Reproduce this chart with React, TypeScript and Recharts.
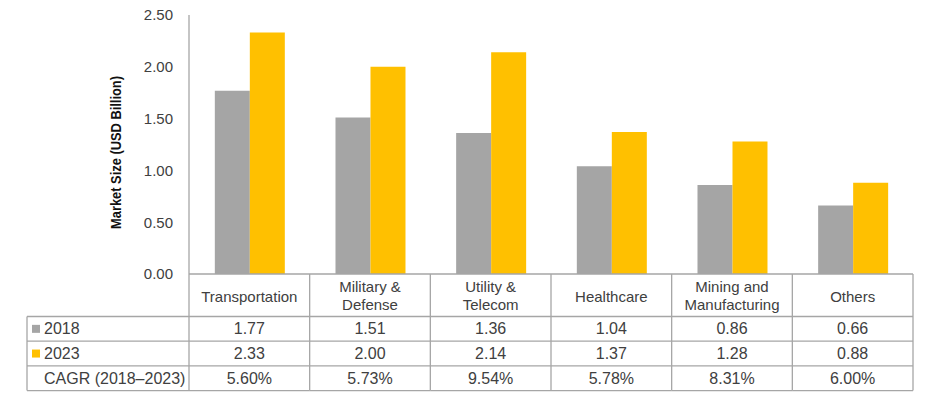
import React from "react"
import { BarChart, Bar, XAxis, YAxis } from "recharts"

const categories = [
  "Transportation",
  "Military &\nDefense",
  "Utility &\nTelecom",
  "Healthcare",
  "Mining and\nManufacturing",
  "Others",
]
const values2018 = [1.77, 1.51, 1.36, 1.04, 0.86, 0.66]
const values2023 = [2.33, 2.0, 2.14, 1.37, 1.28, 0.88]
const cagr = ["5.60%", "5.73%", "9.54%", "5.78%", "8.31%", "6.00%"]
const yTicks = [0, 0.5, 1, 1.5, 2, 2.5]

const data = categories.map((name, i) => ({
  name,
  y2018: values2018[i],
  y2023: values2023[i],
  cagr: cagr[i],
}))

const W = 944
const H = 409
const MARGIN = { top: 15, right: 31, left: 0, bottom: 0 }
const Y_AXIS_W = 189
const X_AXIS_H = 135
const BAND = (W - MARGIN.right - Y_AXIS_W) / categories.length

const GRAY = "#A5A5A5"
const GOLD = "#FFC000"
const LINE = "#A6A6A6"
const TEXT = "#404040"
const FONT = "'Liberation Sans', Arial, sans-serif"

// table row boundaries, relative to the x axis line
const ROW_HEAD = 42.5
const ROW_H = 24.7

function TableTick(props: any) {
  const { x, y, index, payload } = props
  const left = x - BAND / 2
  const right = x + BAND / 2
  const rows = [ROW_HEAD, ROW_HEAD + ROW_H, ROW_HEAD + 2 * ROW_H, ROW_HEAD + 3 * ROW_H]
  const lines = String(payload.value).split("\n")
  const cells = [values2018[index].toFixed(2), values2023[index].toFixed(2), cagr[index]]
  const bottom = y + rows[3]

  return (
    <g>
      {rows.map((r) => (
        <line key={r} x1={left} x2={right} y1={y + r} y2={y + r} stroke={LINE} strokeWidth={1.3} />
      ))}
      <line x1={right} x2={right} y1={y} y2={bottom} stroke={LINE} strokeWidth={1.3} />
      {index === 0 && (
        <line x1={left} x2={left} y1={y} y2={bottom} stroke={LINE} strokeWidth={1.3} />
      )}
      {lines.map((l, i) => (
        <text
          key={i}
          x={x}
          y={y + (lines.length === 1 ? 23 : 13 + i * 18)}
          dy="0.35em"
          textAnchor="middle"
          fontFamily={FONT}
          fontSize={15}
          fill={TEXT}
        >
          {l}
        </text>
      ))}
      {cells.map((c, i) => (
        <text
          key={i}
          x={x}
          y={y + ROW_HEAD + ROW_H * i + ROW_H / 2}
          dy="0.35em"
          textAnchor="middle"
          fontFamily={FONT}
          fontSize={16}
          fill={TEXT}
        >
          {c}
        </text>
      ))}

      {/* row labels (doubles as the legend) */}
      {index === 0 && (
        <g>
          {rows.map((r) => (
            <line key={r} x1={27} x2={left} y1={y + r} y2={y + r} stroke={LINE} strokeWidth={1.3} />
          ))}
          <line x1={27} x2={27} y1={y + rows[0]} y2={bottom} stroke={LINE} strokeWidth={1.3} />
          {[
            { label: "2018", color: GRAY },
            { label: "2023", color: GOLD },
            { label: "CAGR (2018\u20132023)", color: null },
          ].map((r, i) => {
            const cy = y + ROW_HEAD + ROW_H * i + ROW_H / 2
            return (
              <g key={r.label}>
                {r.color && <rect x={32} y={cy - 4} width={8} height={8} fill={r.color} />}
                <text x={44} y={cy} dy="0.35em" fontFamily={FONT} fontSize={16} fill={TEXT}>
                  {r.label}
                </text>
              </g>
            )
          })}
        </g>
      )}
    </g>
  )
}

function YLabel(props: any) {
  const { viewBox } = props
  const cx = viewBox.x + 116
  const cy = viewBox.y + viewBox.height / 2 + 8
  // condensed bold look: squeeze a regular bold face along the text direction
  return (
    <text
      x={0}
      y={0}
      transform={`translate(${cx}, ${cy}) rotate(-90) scale(0.92, 1)`}
      textAnchor="middle"
      dy="0.35em"
      fontFamily={FONT}
      fontWeight="bold"
      fontSize={14}
      fill="#111"
    >
      Market Size (USD Billion)
    </text>
  )
}

export default function App() {
  return (
    <div style={{ position: "absolute", left: 0, top: 0, width: W, height: H, background: "#fff" }}>
      <BarChart
        width={W}
        height={H}
        data={data}
        margin={MARGIN}
        barCategoryGap="21.4%"
        barGap={0}
      >
        <XAxis
          dataKey="name"
          height={X_AXIS_H}
          interval={0}
          tickLine={false}
          tickSize={0}
          tickMargin={0}
          axisLine={{ stroke: LINE, strokeWidth: 1.3 }}
          tick={(p: any) => <TableTick {...p} />}
        />
        <YAxis
          width={Y_AXIS_W}
          domain={[0, 2.5]}
          ticks={yTicks}
          tickFormatter={(v: number) => v.toFixed(2)}
          tickLine={false}
          tickSize={0}
          tickMargin={16}
          axisLine={{ stroke: LINE, strokeWidth: 1.3 }}
          tick={{ fontFamily: FONT, fontSize: 15, fill: TEXT }}
          label={<YLabel />}
        />
        <Bar dataKey="y2018" name="2018" fill={GRAY} isAnimationActive={false} />
        <Bar dataKey="y2023" name="2023" fill={GOLD} isAnimationActive={false} />
      </BarChart>
    </div>
  )
}
